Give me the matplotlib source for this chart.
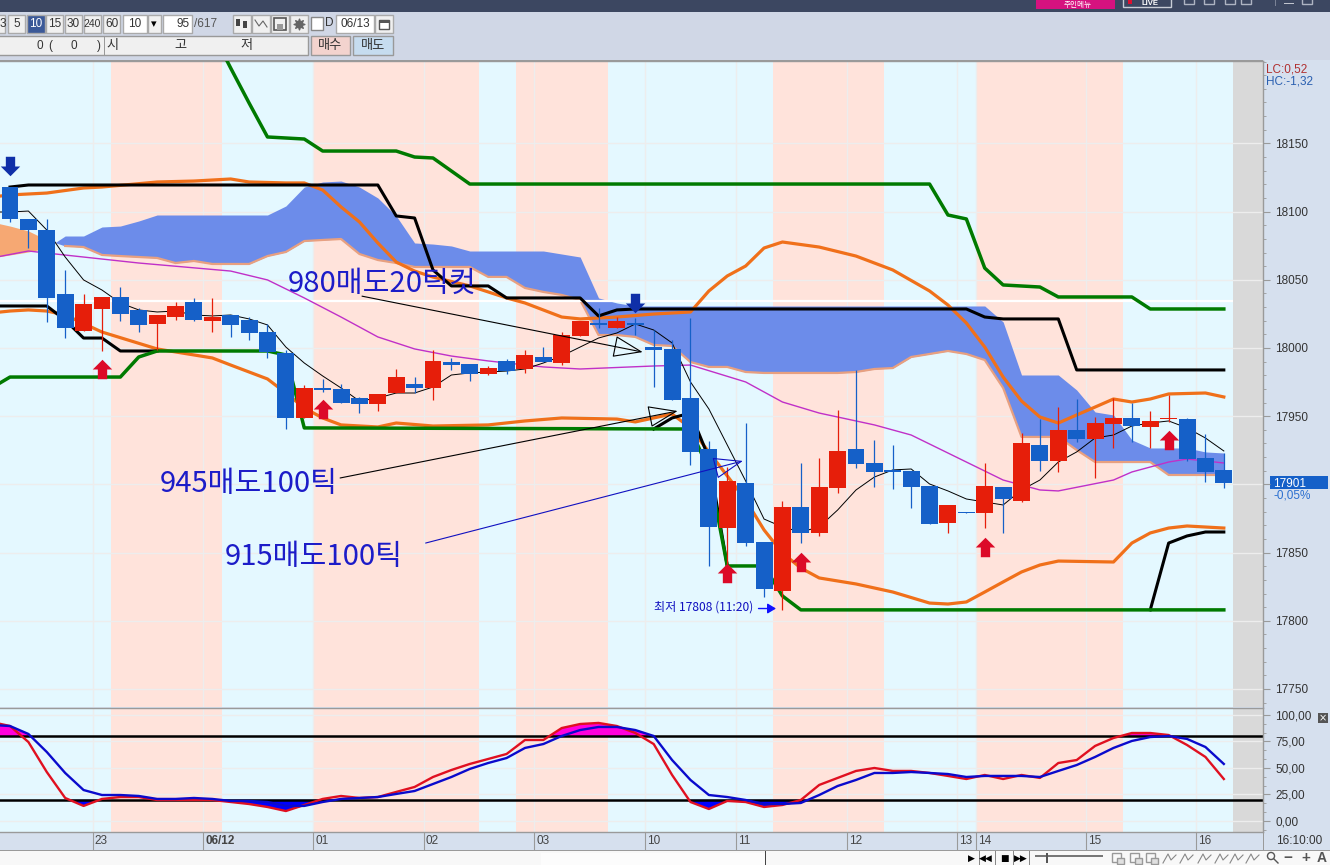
import numpy as np
from matplotlib import pyplot as plt
from matplotlib.patches import Rectangle
from matplotlib.path import Path
from matplotlib.ticker import MultipleLocator

NARROW = ['Liberation Sans', 'Noto Sans CJK KR', 'DejaVu Sans']
KOREAN = ['Noto Sans CJK KR', 'DejaVu Sans']

# candles, one per 10 minute bar
opens = [18118, 18094.5, 18086.5, 18039.5, 18012.5, 18028.5, 18037.5, 18028, 18017.5, 18022.5, 18033.5, 18020, 18024,
         18020.5, 18011.5, 17996.5, 17948.5, 17970.5, 17970, 17963.5, 17959, 17967, 17973.5, 17970.5, 17989.5, 17988.5,
         17981, 17990.5, 17984.5, 17993.5, 17989, 18009, 18018.5, 18014.5, 18018.5, 18000.5, 17999.5, 17963.5, 17926,
         17868, 17901, 17858, 17822, 17883.5, 17864.5, 17897.5, 17926, 17915.5, 17910.5, 17910, 17899, 17872, 17880,
         17879, 17898, 17888, 17929, 17917, 17940, 17933.5, 17944.5, 17948.5, 17942, 17948, 17948, 17919.5, 17910.5]
highs = [18118, 18094.5, 18094.5, 18057, 18039.5, 18037.5, 18044.5, 18029.5, 18024, 18033.5, 18036.5, 18036.5, 18024,
         18022.5, 18017.5, 17998.5, 17973, 17977.5, 17973.5, 17964, 17966.5, 17984.5, 17978.5, 17998.5, 17992.5, 17988.5,
         17987, 17992, 17998.5, 18000.5, 18011.5, 18020, 18029.5, 18022.5, 18022, 18013, 18006, 18022, 17932,
         17913, 17945, 17858, 17888, 17915.5, 17919.5, 17954.5, 17984, 17932.5, 17929, 17910, 17899, 17885, 17880,
         17915.5, 17898, 17937.5, 17948, 17957, 17962.5, 17949.5, 17963.5, 17959.5, 17954, 17965.5, 17948.5, 17937, 17923]
lows = [18092.5, 18073.5, 18019, 18007.5, 18012.5, 17998, 18020, 18011.5, 17998.5, 18020.5, 18020, 18011.5, 18008,
        18006, 17992.5, 17940.5, 17948.5, 17967.5, 17959.5, 17952.5, 17954, 17967, 17967, 17962, 17984, 17976,
        17980, 17981, 17981.5, 17989.5, 17987.5, 18009, 18014.5, 18014.5, 18009.5, 17971.5, 17962, 17914, 17840,
        17841, 17855, 17817.5, 17808, 17857, 17862, 17893.5, 17912, 17898, 17896.5, 17882.5, 17871, 17864.5, 17879,
        17868, 17864.5, 17887, 17910, 17909, 17931, 17904.5, 17926.5, 17931, 17926.5, 17946, 17917, 17902, 17897.5]
closes = [18094.5, 18086.5, 18036.5, 18014.5, 18032.5, 18037.5, 18025, 18017, 18024, 18031, 18020.5, 18022.5, 18017,
          18011, 17997, 17948.5, 17970.5, 17969, 17959.5, 17959, 17966.5, 17978.5, 17970.5, 17990.5, 17987.5, 17981,
          17985.5, 17983, 17995, 17989.5, 18009.5, 18020, 18017, 18020, 18017, 17998.5, 17962, 17924, 17869,
          17902.5, 17857, 17823.5, 17883.5, 17864.5, 17898, 17924.5, 17915, 17909, 17909, 17898, 17871, 17885, 17879,
          17899, 17889.5, 17930.5, 17917, 17940, 17933.5, 17945, 17948.5, 17943, 17946.5, 17948.5, 17918.5, 17909, 17901]

# thin moving averages
ma_fast_bars = list(range(-1, 67))
ma_fast = [18099.7, 18099.7, 18100.4, 18086.5, 18066.7, 18049.9, 18042.5, 18033, 18027.9, 18026.4, 18027.1, 18024.2,
           18023.5, 18024.2, 18021.3, 18016.9, 18000.7, 17989, 17979.5, 17970.7, 17961.1, 17963.3, 17967, 17967,
           17971.4, 17980.2, 17981.7, 17982.4, 17983.1, 17984.6, 17989, 17994.1, 18000.7, 18007.3, 18011, 18017.6,
           18013.2, 18003.7, 17975.1, 17955.3, 17928.9, 17902.5, 17874.6, 17868.8, 17865.1, 17868.8, 17881.2,
           17895.9, 17905.4, 17910.6, 17911.3, 17900.3, 17895.2, 17889.3, 17887.1, 17884.9, 17895.9, 17903.2,
           17916.4, 17923.8, 17934, 17936.2, 17942.8, 17945, 17946.5, 17941.4, 17934, 17924.5]
ma_slow_bars = [-1, 1, 2, 7, 12, 14, 16, 18, 20, 22, 24, 26, 29, 31, 35, 37, 40, 42, 44, 47, 49, 52, 54, 56, 57, 60, 61,
                63, 64, 66]
ma_slow = [18066, 18071.1, 18069.6, 18062.3, 18056.4, 18049.9, 18036.7, 18022.7, 18008.1, 17999.3, 17994.1, 17990.5,
           17986.1, 17984.6, 17986.8, 17987.5, 17975.1, 17960.4, 17952.3, 17943.6, 17936.2, 17916.4, 17903.2, 17895.9,
           17895.2, 17903.2, 17909.1, 17916.4, 17918.6, 17915.7]

# bollinger bands
bb_up_bars = [-1, 0, 2, 4, 5, 8, 10, 12, 13, 15, 16, 17, 18, 19, 20, 21, 22, 23, 25, 27, 28, 30, 31, 33, 35, 37, 38, 39,
              40, 41, 42, 44, 46, 48, 50, 51, 52, 53, 54, 55, 56, 57, 58, 59, 60, 61, 62, 63, 65, 66]
bb_up = [18110.7, 18112.2, 18113.6, 18117.3, 18118, 18121.7, 18122.4, 18123.9, 18121.7, 18121, 18121, 18115.8, 18103.4,
         18092.4, 18077, 18063, 18056.4, 18052, 18045.5, 18036.7, 18033, 18022.7, 18021.3, 18022.7, 18024.9, 18026.4,
         18041.8, 18052.8, 18060.1, 18073.3, 18077.7, 18074, 18067.4, 18057.2, 18041.8, 18031.5, 18018.3, 18000.7,
         17978.7, 17961.1, 17949.4, 17945, 17950.9, 17956.7, 17962.6, 17960.4, 17962.6, 17966.3, 17967, 17964.1]
bb_low_bars = [-1, 0, 1, 2, 3, 5, 8, 10, 11, 12, 14, 15, 16, 17, 18, 20, 21, 23, 26, 28, 30, 33, 34, 36, 37, 38, 39, 40,
               41, 42, 43, 44, 46, 48, 50, 51, 52, 53, 54, 55, 56, 57, 60, 61, 62, 63, 64, 66]
bb_low = [18025.7, 18027.1, 18027.9, 18027.1, 18024.2, 18011.7, 17999.3, 17994.9, 17992.7, 17987.5, 17977.3, 17967, 17956,
          17948.7, 17943.6, 17942.1, 17945, 17942.8, 17943.6, 17946.5, 17948.7, 17947.9, 17945.8, 17951.6, 17941.4,
          17923.8, 17906.2, 17888.6, 17866.6, 17849.7, 17838.7, 17831.4, 17827, 17821.1, 17813, 17812.3, 17813.8,
          17821.1, 17828.5, 17835.8, 17840.9, 17843.8, 17843.1, 17857, 17864.4, 17868, 17869.5, 17868]

# channel lines
green_up_bars = [11, 12, 13, 14, 16, 17, 21, 22, 23, 25, 50, 51, 52, 53, 54, 56, 57, 61, 62, 66]
green_up = [18231.6, 18205.2, 18179.6, 18154.7, 18153.2, 18144.4, 18144.4, 18140, 18139.3, 18120.2, 18120.2, 18097.5,
            18094.6, 18058.6, 18046.2, 18044.7, 18037.4, 18037.4, 18028.6, 18028.6]
green_low_bars = [-1, 0, 6, 7, 8, 14, 15, 16, 37, 38, 39, 41, 42, 43, 66]
green_low = [17970.7, 17978.7, 17978.7, 17993.4, 17997.8, 17997.8, 17994.9, 17941.4, 17940.6, 17910.6, 17840.2, 17840.2,
             17818.2, 17808, 17808]
black_up_bars = [0, 1, 20, 21, 22, 23, 24, 26, 27, 31, 32, 33, 34, 52, 53, 54, 57, 58, 66]
black_up = [18118, 18119.5, 18119.5, 18096.8, 18095.3, 18057.2, 18045.5, 18045.5, 18036.7, 18036.7, 18023.5, 18027.9,
            18028.6, 18028.6, 18022.7, 18021.3, 18021.3, 17983.9, 17983.9]
black_low_bars = [-1, 2, 3, 4, 5, 6, 8, 9, 35, 36, 37, 38, 39, 61, 62, 63, 64, 65, 66]
black_low = [18030.8, 18030.8, 18020.5, 18007.3, 18007.3, 17997.8, 17997.8, np.nan, 17940.6, 17948.7, 17952.3, 17919.4,
             17840.2, np.nan, 17808, 17857, 17862.2, 17865.1, 17865.1]

# ichimoku cloud, bars -1 to 66
span_a = [18066, 18068.2, 18070.4, 18073.3, 18082.1, 18082.1, 18088.7, 18089.4, 18093.1, 18097.5, 18097.5, 18097.5,
          18097.5, 18097.5, 18097.5, 18097.5, 18104.1, 18118, 18121.7, 18122.4, 18118, 18110, 18096.8, 18077, 18076.2,
          18074.8, 18071.1, 18071.1, 18071.1, 18071.1, 18071.1, 18068.9, 18066.7, 18036.7, 18033, 18030.8, 18030.8,
          18030.8, 18030.8, 18030.8, 18030.8, 18030.8, 18030.8, 18030.8, 18030.8, 18030.8, 18030.8, 18030.8, 18030.8,
          18030.8, 18030.8, 18030.8, 18030.8, 18030.8, 18030.8, 18019.1, 17980.2, 17980.2, 17980.2, 17969.2, 17953.1,
          17950.9, 17932.6, 17926.7, 17926.7, 17926.7, 17923.8, 17923]
span_b = [18092.4, 18089.4, 18085.8, 18079.2, 18074.8, 18074, 18068.2, 18067.4, 18066.7, 18066, 18062.3, 18063.8,
          18061.6, 18061.6, 18061.6, 18067.4, 18070.4, 18078.4, 18079.2, 18079.9, 18068.9, 18064.5, 18062.3, 18059.4,
          18059.4, 18059.4, 18059.4, 18052.1, 18052.1, 18044, 18041.1, 18038.9, 18035.2, 18009.5, 18009.5, 18008.1,
          18002.2, 18001.5, 17989.7, 17986.1, 17986.1, 17982.4, 17981.7, 17981.7, 17981.7, 17981.7, 17981.7, 17982.4,
          17984.6, 17985.3, 17993.4, 17995.6, 17997.8, 17995.6, 17991.2, 17970.7, 17934.8, 17934.8, 17934.8, 17925.2,
          17916.4, 17916.4, 17916.4, 17916.4, 17906.9, 17906.9, 17906.9, 17906.9]

# stochastic, bars -1 to 66
stoch_k = [93.4, 89.6, 74.5, 46.2, 21.7, 14.2, 20.8, 22.6, 22.6, 19.8, 19.8, 19.8, 19.8, 17.9, 16, 13.2, 9.4, 15.1, 20.8,
           23.6, 21.7, 22.6, 27.4, 32.1, 41.5, 48.1, 53.8, 58.5, 63.2, 76.4, 76.4, 87.7, 91.5, 92.5, 89.6, 83, 72.6, 43.4,
           17.9, 11.3, 18.9, 17.9, 13.2, 15.1, 19.8, 34, 40.6, 47.2, 50, 47.2, 47.2, 45.3, 42.5, 39.6, 43.4, 39.6, 43.4,
           40.6, 54.7, 57.5, 70.8, 78.3, 83, 83, 81.1, 71.7, 60.4, 39.6]
stoch_d = [90.6, 89.6, 82.1, 65.1, 45.3, 29.2, 24.5, 24.5, 23.6, 20.8, 20.8, 21.7, 20.8, 18.9, 18.9, 17.9, 14.2, 14.2,
           17.9, 20.8, 21.7, 22.6, 25.5, 28.3, 34.9, 41.5, 49.1, 54.7, 59.4, 68.9, 72.6, 80.2, 85.8, 88.7, 88.7, 85.8,
           80.2, 57.5, 38.7, 24.5, 22.6, 19.8, 16, 16, 17, 24.5, 33, 38.7, 45.3, 45.3, 46.2, 45.3, 44.3, 41.5, 42.5, 42.5,
           42.5, 41.5, 47.2, 52.8, 60.4, 68.9, 75.5, 79.2, 80.2, 77.4, 69.8, 53.8]

# signals
buy_bars = [5, 17, 39, 43, 53, 63]
buy_prices = [17984.6, 17955.3, 17835, 17843, 17854, 17932.6]
sell_bars = [0, 34]
sell_prices = [18133.4, 18033]

price_ticks = [17750, 17800, 17850, 17900, 17950, 18000, 18050, 18100, 18150]
price_tick_labels = ['17750', '17800', '17850', '', '17950', '18000', '18050', '18100', '18150']
stoch_ticks = [0, 25, 50, 75, 100]
stoch_tick_labels = ['0,00', '25,00', '50,00', '75,00', '100,00']
date_bars = [4.5, 10.5, 16.5, 22.5, 28.5, 34.5, 39.5, 45.5, 51.5, 52.5, 58.5, 64.5]
date_labels = ['23', '06/12', '01', '02', '03', '10', '11', '12', '13', '14', '15', '16']
# session colour changes, first band is blue
band_edges = [-0.55, 5.5, 11.5, 16.5, 25.5, 27.5, 32.5, 41.5, 47.5, 52.5, 60.5, 66.5]

BLUE = '#1560C8'
RED = '#E61E0A'
ORANGE = '#F0701A'
GREEN = '#007A00'
SKY = '#E4F8FF'
PINK = '#FFE3DB'
TEXT_BLUE = '#1C1CC8'
PANEL = '#D6E0EE'
GRID = '#EDEDED'
SPINE = '#9A9A9A'


def add_bands(a):
    for i in range(len(band_edges) - 1):
        a.axvspan(band_edges[i], band_edges[i + 1], color=SKY if i % 2 == 0 else PINK, lw=0, zorder=0)
    a.axvspan(band_edges[-1], 70, color='#D9D9D9', lw=0, zorder=0)
    a.set_xlim(-0.544, 68.13)
    a.set_xticks(date_bars)
    a.grid(True, color=GRID, lw=1)
    a.set_axisbelow(True)
    for side in a.spines:
        a.spines[side].set_color(SPINE)
        a.spines[side].set_linewidth(1)
    a.spines['left'].set_visible(False)


fig = plt.figure(figsize=(13.3, 8.65), dpi=100, facecolor=PANEL)

# window chrome behind the charts, in pixels
ui = fig.add_axes([0, 0, 1, 1], zorder=0)
ui.set_xlim(0, 1330)
ui.set_ylim(865, 0)
ui.axis('off')


def box(x0, y0, x1, y1, fc, ec='none', lw=1.0):
    ui.add_patch(Rectangle((x0, y0), x1 - x0, y1 - y0, fc=fc, ec=ec, lw=lw))


def label(x, y, s, size=8.5, color='#333333', ha='center', **kw):
    ui.text(x, y, s, fontsize=size, color=color, ha=ha, va='center', family=NARROW, **kw)


box(0, 0, 1330, 60, '#D0D7E6')
box(0, 0, 1330, 12, '#3C4761')
box(1036, 0, 1115, 9, '#D6127F')
ui.text(1078, 4.5, '주인메뉴', fontsize=5.5, color='white', ha='center', va='center', family=KOREAN)
box(1123, -2, 1171, 7, 'none', ec='#C8CCD6')
label(1150, 3.5, 'LIVE', size=5.5, color='white', weight='bold')
box(1128, 0, 1132, 4, '#E01030')
for x in [1189, 1209, 1230, 1246, 1307]:
    box(x - 5, -3, x + 5, 4, 'none', ec='#AEB4C2')
box(1284, 3, 1294, 4, '#C0C4CE')
box(1275, 0, 1276, 6, '#7A8296')

# first toolbar row
for x0, x1, s in [(-12, 5, '3'), (8, 25, '5'), (46, 63, '15'), (65, 82, '30'), (84, 101, '240'), (103, 120, '60')]:
    box(x0, 15, x1, 33, '#F0F0F0', ec='#AAAAAA')
    label(2.5 if s == '3' else (x0 + x1) / 2, 24, s, size=7.5 if s == '240' else 8.5)
box(27, 15, 45, 33, '#3B5998', ec='#AAAAAA')
label(36, 24, '10', color='white')
box(123, 15, 147, 33, 'white', ec='#AAAAAA')
label(135, 24, '10')
box(148, 15, 161, 33, '#F0F0F0', ec='#AAAAAA')
ui.text(154, 24, '▾', fontsize=8, ha='center', va='center')
box(163, 15, 192, 33, 'white', ec='#AAAAAA')
label(190, 24, '95', ha='right')
label(194, 24, '/617', ha='left', color='#555555')
for x in [233, 252, 271, 290]:
    box(x, 15, x + 18, 33, '#F0F0F0', ec='#AAAAAA')
box(236, 19, 240, 26, '#444444')
box(243, 21, 247, 28, '#444444')
ui.plot([255, 259, 263, 267], [20, 26, 21, 27], color='#666666', lw=0.8)
box(274, 18, 286, 30, 'none', ec='#555555', lw=1.2)
box(277, 24, 283, 30, '#999999')
ui.scatter([299], [24], s=60, marker=(8, 1, 0), color='#666666')
box(311, 17, 323, 30, 'white', ec='#888888')
label(329, 23, 'D', ha='center')
box(336, 15, 374, 33, 'white', ec='#AAAAAA')
label(355, 24, '06/13')
box(375, 15, 393, 33, '#F0F0F0', ec='#AAAAAA')
box(379, 20, 389, 29, 'white', ec='#555555')
box(379, 20, 389, 23, '#555555')

# second toolbar row
box(-2, 36, 308, 55, '#F0F0F0', ec='#999999')
box(104, 36, 105, 55, '#999999')
label(40, 46, '0')
label(50, 46, '(')
label(74, 46, '0')
label(99, 46, ')')
for x, s in [(112, '시'), (180, '고'), (247, '저')]:
    ui.text(x, 46, s, fontsize=9.5, color='#333333', ha='center', va='center', family=KOREAN)
box(311, 36, 350, 55, '#F3D3CE', ec='#999999')
box(353, 36, 393, 55, '#C6DCEF', ec='#999999')
ui.text(330, 46, '매수', fontsize=9.5, color='#333333', ha='center', va='center', family=KOREAN)
ui.text(373, 46, '매도', fontsize=9.5, color='#333333', ha='center', va='center', family=KOREAN)

# bottom status strip
box(0, 850, 1330, 865, '#F8F8F8')
box(0, 850, 1330, 851, '#9A9A9A')
box(541, 853, 765, 865, '#FCFCFC')
box(765, 851, 766, 865, '#444444')
for x, s in [(971, '▶'), (986, '◀◀'), (1004, '■'), (1021, '▶▶')]:
    ui.text(x, 858, s, fontsize=6.5, color='black', ha='center', va='center', family='DejaVu Sans')
for x in [979, 995, 1013, 1029]:
    box(x, 851, x + 1, 865, '#888888')
box(1035, 855, 1103, 857, '#777777')
box(1046, 853, 1048, 863, '#555555')
for x in [1118, 1136, 1152]:
    box(x - 6, 853, x + 3, 862, 'none', ec='#999999')
    box(x - 1, 858, x + 6, 864, '#E0E0E0', ec='#999999')
for x in [1170, 1187, 1205, 1222, 1237, 1253]:
    ui.plot([x - 7, x - 2, x + 1, x + 6], [863, 854, 860, 855], color='#888888', lw=0.8)
ui.scatter([1271], [856], s=26, facecolor='none', edgecolor='#555555', lw=1)
ui.plot([1274, 1278], [859, 863], color='#555555', lw=1)
label(1288, 858, '−', size=11, color='#555555', weight='bold')
label(1306, 858, '+', size=11, color='#555555', weight='bold')
label(1322, 858, 'A', size=10, color='#555555', weight='bold')

# price panel
ax = fig.add_axes([0, 1 - 707 / 865, 1263 / 1330, (707 - 61) / 865], zorder=2)
add_bands(ax)
ax.spines['bottom'].set_visible(False)
ax.set_ylim(17736.8, 18210.4)

cloud_x = np.arange(-1, 67)
span_a = np.array(span_a)
span_b = np.array(span_b)
ax.fill_between(cloud_x, span_a, span_b, where=span_a >= span_b, interpolate=True, color='#6C8CEA', lw=0, zorder=2)
ax.fill_between(cloud_x, span_a, span_b, where=span_a <= span_b, interpolate=True, color='#F6A873', lw=0, zorder=2)
ax.plot(cloud_x[4:], span_b[4:], color='#E8A080', lw=1.6, zorder=2.2)

ax.hlines(18034.5, -1, 66.5, color='white', lw=1.6, zorder=2.5)

ax.plot(ma_slow_bars, ma_slow, color='#C030C8', lw=1, zorder=3)
ax.plot(bb_up_bars, bb_up, color=ORANGE, lw=2.3, zorder=3)
ax.plot(bb_low_bars, bb_low, color=ORANGE, lw=2.3, zorder=3)
ax.plot(black_up_bars, black_up, color='black', lw=2.2, zorder=3.2)
ax.plot(black_low_bars, black_low, color='black', lw=2.2, zorder=3.2)
ax.plot(green_up_bars, green_up, color=GREEN, lw=2.5, zorder=3.3)
ax.plot(green_low_bars, green_low, color=GREEN, lw=2.5, zorder=3.3)
ax.plot(ma_fast_bars, ma_fast, color='black', lw=0.7, zorder=3.5)

# candles on top of the lines
bars = np.arange(len(opens))
opens = np.array(opens)
closes = np.array(closes)
colors = [RED if c >= o else BLUE for o, c in zip(opens, closes)]
ax.vlines(bars, lows, highs, color=colors, lw=0.9, zorder=5)
ax.bar(bars, np.abs(closes - opens), bottom=np.minimum(opens, closes), width=0.92, color=colors, lw=0, zorder=5.1)

# block arrows
up_arrow = Path([(-0.5, 0), (0, 0.5), (0.5, 0), (0.24, 0), (0.24, -0.5), (-0.24, -0.5), (-0.24, 0), (-0.5, 0)], closed=True)
down_arrow = Path([(-0.5, 0), (0, -0.5), (0.5, 0), (0.24, 0), (0.24, 0.5), (-0.24, 0.5), (-0.24, 0), (-0.5, 0)], closed=True)
ax.plot(buy_bars, buy_prices, ls='none', marker=up_arrow, ms=14, mfc='#DC0A28', mec='none', zorder=6)
ax.plot(sell_bars, sell_prices, ls='none', marker=down_arrow, ms=14, mfc='#0F2FA8', mec='none', zorder=6)

# hand drawn notes
ax.text(15.1, 18047, '980매도20틱컷', fontsize=21, color=TEXT_BLUE, family=KOREAN, va='center', zorder=7)
ax.text(8.16, 17900.5, '945매도100틱', fontsize=21, color=TEXT_BLUE, family=KOREAN, va='center', zorder=7)
ax.text(11.7, 17847, '915매도100틱', fontsize=21, color=TEXT_BLUE, family=KOREAN, va='center', zorder=7)
ax.text(35.0, 17810, '최저 17808 (11:20)', fontsize=8.7, color='#1010C0', family=KOREAN, va='center', zorder=7)
for start, tip, col in [((19.14, 18038), (34.4, 17997), 'black'),
                        ((17.95, 17904.7), (36.3, 17953.8), 'black'),
                        ((22.6, 17857), (39.85, 17917.2), '#1010C0')]:
    ax.annotate('', xy=tip, xytext=start, zorder=7,
                arrowprops=dict(arrowstyle='-|>,head_length=19,head_width=7', fc='none', ec=col, lw=0.8,
                                shrinkA=0, shrinkB=0, mutation_scale=1))
ax.annotate('', xy=(41.65, 17809), xytext=(40.7, 17809), zorder=7,
            arrowprops=dict(arrowstyle='-|>,head_length=5,head_width=3', fc='#1010FF', ec='#1010FF', lw=1,
                            shrinkA=0, shrinkB=0, mutation_scale=1))

ax.yaxis.tick_right()
ax.set_yticks(price_ticks)
ax.set_yticklabels(price_tick_labels, family=NARROW, fontsize=8.5, color='#333333')
ax.yaxis.set_minor_locator(MultipleLocator(10))
ax.tick_params(axis='y', which='major', length=5, color=SPINE, pad=4)
ax.tick_params(axis='y', which='minor', length=2.5, color=SPINE)
ax.tick_params(axis='x', length=0, labelbottom=False)

# current price box
box(1270, 476, 1328, 489, BLUE)
ax.annotate(f'{closes[-1]:.0f}', xy=(1, closes[-1]), xycoords=('axes fraction', 'data'), xytext=(7.5, -0.5),
            textcoords='offset points', color='white', fontsize=8.5, family=NARROW, va='center',
            annotation_clip=False, zorder=8)
ax.annotate('-0,05%', xy=(1, closes[-1]), xycoords=('axes fraction', 'data'), xytext=(7.5, -9),
            textcoords='offset points', color='#2A6FD0', fontsize=8.5, family=NARROW, va='center',
            annotation_clip=False, zorder=8)
ax.text(1.0023, 0.9875, 'LC:0,52', transform=ax.transAxes, color='#B03030', fontsize=8.5, family=NARROW, va='center')
ax.text(1.0023, 0.9685, 'HC:-1,32', transform=ax.transAxes, color='#2A5FB0', fontsize=8.5, family=NARROW, va='center')

# stochastic panel
ax2 = fig.add_axes([0, 1 - 832 / 865, 1263 / 1330, (832 - 708) / 865], zorder=2)
add_bands(ax2)
ax2.set_ylim(-10.4, 106.6)
stoch_k = np.array(stoch_k)
stoch_d = np.array(stoch_d)
top = np.maximum(stoch_k, stoch_d)
bottom = np.minimum(stoch_k, stoch_d)
ax2.fill_between(cloud_x, top, 80, where=top >= 80, interpolate=True, color='#FF00DC', lw=0, zorder=2)
ax2.fill_between(cloud_x, bottom, 20, where=bottom <= 20, interpolate=True, color='#0000FF', lw=0, zorder=2)
ax2.axhline(80, color='black', lw=1.8, zorder=2.5)
ax2.axhline(20, color='black', lw=1.8, zorder=2.5)
ax2.plot(cloud_x, stoch_k, color='#E01020', lw=1.7, zorder=3)
ax2.plot(cloud_x, stoch_d, color='#0A0ACC', lw=1.7, zorder=3.1)

ax2.yaxis.tick_right()
ax2.set_yticks(stoch_ticks)
ax2.set_yticklabels(stoch_tick_labels, family=NARROW, fontsize=8.5, color='#333333')
ax2.yaxis.set_minor_locator(MultipleLocator(25 / 3))
ax2.tick_params(axis='y', which='major', length=5, color=SPINE, pad=4)
ax2.tick_params(axis='y', which='minor', length=2.5, color=SPINE)
ax2.tick_params(axis='x', length=13, color=SPINE, labelbottom=False)
for b, s in zip(date_bars, date_labels):
    ax2.annotate(s, xy=(b, 0), xycoords=('data', 'axes fraction'), xytext=(1.5, -6.5), textcoords='offset points',
                 fontsize=8.5, family=NARROW, color='#444444', va='center', annotation_clip=False,
                 weight='bold' if s == '06/12' else 'normal')
label(1276, 841, '16:10:00', size=8.5, ha='left')
box(1263, 832, 1264, 850, SPINE)
box(0, 60, 1263, 61, SPINE)
box(1318, 713, 1328, 723, '#555555')
ui.text(1323, 718, '×', fontsize=7, color='white', ha='center', va='center')

plt.savefig('out.png', dpi=100, facecolor=fig.get_facecolor())
